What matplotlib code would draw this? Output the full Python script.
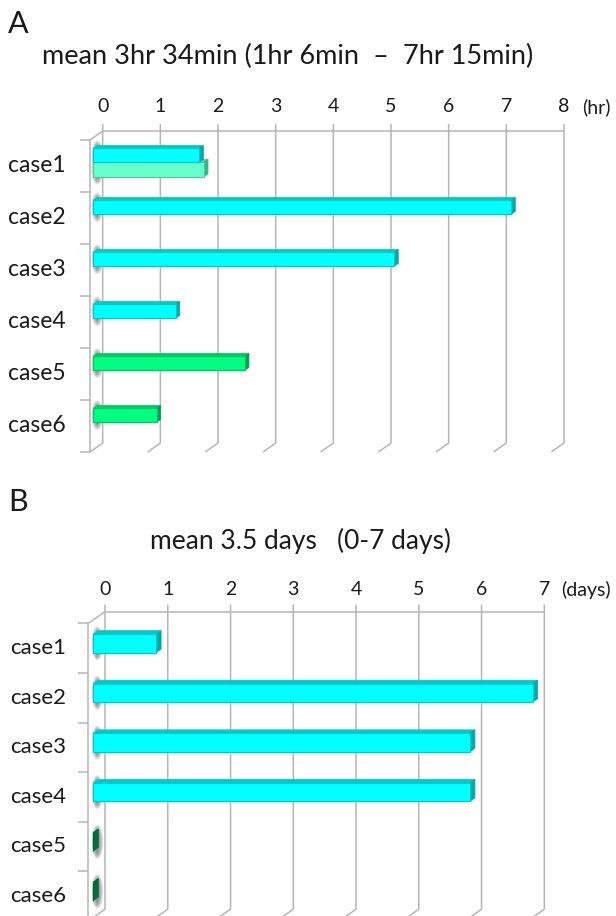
import matplotlib
matplotlib.use("Agg")
import matplotlib.pyplot as plt
from matplotlib.patches import Polygon, Ellipse

plt.rcParams['font.family'] = ['Lato', 'DejaVu Sans']

W, H, DPI = 616, 916, 100

# ---------------- data ----------------
cases = ["case1", "case2", "case3", "case4", "case5", "case6"]
hours_series1 = [1.84, 7.25, 5.22, 1.43, 2.63, 1.10]
hours_series2 = [1.92, None, None, None, None, None]
hours_colors1 = ["cyan", "cyan", "cyan", "cyan", "green", "green"]
hours_colors2 = ["aqua", None, None, None, None, None]
hour_ticks = [0, 1, 2, 3, 4, 5, 6, 7, 8]

days_series = [1.0, 7.0, 6.0, 6.0, 0.0, 0.0]
days_colors = ["cyan", "cyan", "cyan", "cyan", "dkgreen", "dkgreen"]
day_ticks = [0, 1, 2, 3, 4, 5, 6, 7]

title_A = "mean 3hr 34min (1hr 6min  \u2013  7hr 15min)"
title_B = "mean 3.5 days   (0-7 days)"

PAL = {
    "cyan":    dict(front="#00FFFF", top="#00CACA", side="#00A9A9", edge="#00C6C6"),
    "aqua":    dict(front="#66FFCC", top="#52D6AA", side="#3BAF88", edge="#4CC9A0"),
    "green":   dict(front="#00FF80", top="#00CC66", side="#00A050", edge="#00C462"),
    "dkgreen": dict(front="#007A3D", top="#006633", side="#00703A", edge="#006633"),
}
GRID = "#B5B5B5"
TXT = "#1A1A1A"

fig = plt.figure(figsize=(W / DPI, H / DPI), dpi=DPI)


def make_axes(left_px, top_px, ppx, cat_px, xmax_px=600):
    width_px = xmax_px - left_px
    height_px = cat_px * 6
    ax = fig.add_axes([left_px / W, 1 - (top_px + height_px) / H, width_px / W, height_px / H])
    ax.set_xlim(0, width_px / ppx)
    ax.set_ylim(6, 0)
    ax.axis("off")
    return ax


def units(ax):
    p0 = ax.transData.transform((0, 0))
    p1 = ax.transData.transform((1, 1))
    return p1[0] - p0[0], p0[1] - p1[1]


def draw_frame(ax, ticks, unit_label, DX, DY, tick_fs, lab_dy, unit_dx):
    ppx, ppy = units(ax)
    bx, by = DX / ppx, -DY / ppy
    n = len(cases)
    kw = dict(color=GRID, lw=1.1, clip_on=False, solid_capstyle="butt", zorder=1)
    tick_len = 7 / ppy
    for t in ticks:
        ax.plot([t + bx, t + bx, t], [by - tick_len, n + by, n], **kw)
        ax.text(t + bx, by - lab_dy / ppy, str(t), ha="center", va="center",
                fontsize=tick_fs, color=TXT, clip_on=False)
    ax.text(ticks[-1] + bx + unit_dx / ppx, by - lab_dy / ppy, unit_label, ha="left", va="center",
            fontsize=tick_fs, color=TXT, clip_on=False)
    ax.plot([bx, ticks[-1] + bx], [by, by], **kw)
    ax.plot([0, 0], [0, n], **kw)
    ax.plot([0, bx], [0, by], **kw)
    for k in range(n + 1):
        ax.plot([-10 / ppx, 0], [k, k], **kw)


def bar3d(ax, ytop, h, w, pal, DX, DY, f1, f2):
    ppx, ppy = units(ax)
    ox1, oy1 = f1 * DX / ppx, -f1 * DY / ppy
    ox2, oy2 = f2 * DX / ppx, -f2 * DY / ppy
    # soft shadow on the left wall
    cx = ox1 + 4.0 / ppx
    cy = ytop + oy1 + h / 2
    for k in range(8):
        s = 1 - k * 0.11
        ax.add_patch(Ellipse((cx, cy), width=12 * s / ppx, height=h + 16 * s / ppy,
                             fc="#5A5A5A", ec="none", alpha=0.12, clip_on=False, zorder=2))
    top = ytop + oy1
    bot = top + h
    d = oy2 - oy1
    ax.add_patch(Polygon([(ox1, top), (w + ox1, top), (w + ox2, top + d), (ox2, top + d)],
                         closed=True, fc=pal["top"], ec=pal["top"], lw=0.6, clip_on=False, zorder=3))
    ax.add_patch(Polygon([(w + ox1, top), (w + ox2, top + d), (w + ox2, bot + d), (w + ox1, bot)],
                         closed=True, fc=pal["side"], ec=pal["side"], lw=0.6, clip_on=False, zorder=3))
    ax.barh(top, w, height=h, left=ox1, align="edge", color=pal["front"],
            edgecolor=pal["edge"], linewidth=0.8, clip_on=False, zorder=4)


# ---------------- Panel A ----------------
axA = make_axes(90, 140, 57.66, 52)
DXa, DYa = 12.7, 9.0
draw_frame(axA, hour_ticks, "(hr)", DXa, DYa, 14, 24, 18)
slot1 = (0.205, 0.265)
slot2 = (0.47, 0.28)
for i in reversed(range(len(cases))):
    if hours_series2[i] is not None:
        bar3d(axA, i + slot2[0], slot2[1], hours_series2[i], PAL[hours_colors2[i]], DXa, DYa, 0.26, 0.57)
    bar3d(axA, i + slot1[0], slot1[1], hours_series1[i], PAL[hours_colors1[i]], DXa, DYa, 0.26, 0.57)
for i, c in enumerate(cases):
    axA.text(-53 / units(axA)[0], i + 0.5, c, ha="center", va="center", fontsize=16.5, color=TXT,
             clip_on=False)

# ---------------- Panel B ----------------
axB = make_axes(88.3, 623.3, 62.76, 49.6)
DXb, DYb = 16.7, 11.7
draw_frame(axB, day_ticks, "(days)", DXb, DYb, 14, 22, 17)
for i in reversed(range(len(cases))):
    bar3d(axB, i + 0.29, 0.37, days_series[i], PAL[days_colors[i]], DXb, DYb, 0.30, 0.60)
for i, c in enumerate(cases):
    axB.text(-50 / units(axB)[0], i + 0.5, c, ha="center", va="center", fontsize=16, color=TXT,
             clip_on=False)

# ---------------- titles ----------------
fig.text(8 / W, 1 - 24 / H, "A", fontsize=22, ha="left", va="center", color=TXT)
fig.text(42 / W, 1 - 56 / H, title_A, fontsize=19.5, ha="left", va="center", color=TXT)
fig.text(8 / W, 1 - 502 / H, "B", fontsize=22, ha="left", va="center", color=TXT)
fig.text(150 / W, 1 - 541 / H, title_B, fontsize=19, ha="left", va="center", color=TXT)

fig.savefig("out.png", dpi=DPI, facecolor="white")
